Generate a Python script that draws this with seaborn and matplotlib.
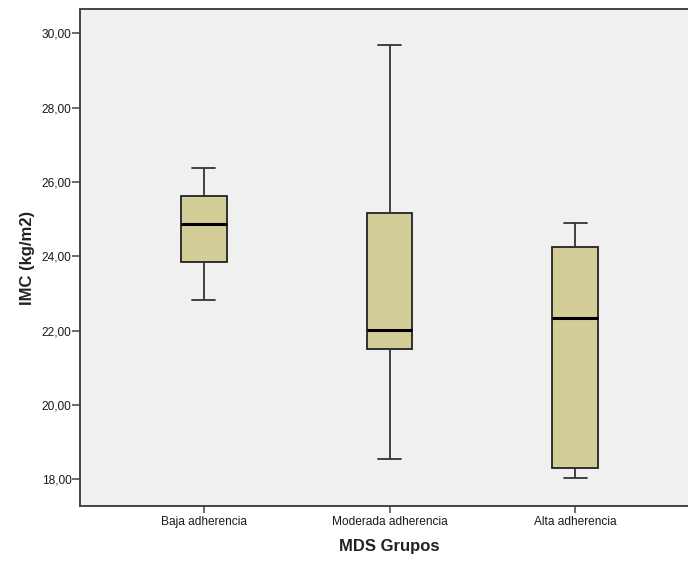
import matplotlib
matplotlib.use("Agg")
import matplotlib.pyplot as plt
import seaborn as sns
import pandas as pd
from matplotlib.ticker import FuncFormatter

# Five-number summaries per group (min, Q1, median, Q3, max)
categories = ["Baja adherencia", "Moderada adherencia", "Alta adherencia"]
baja = [22.81, 23.85, 24.86, 25.62, 26.36]
moderada = [18.55, 21.51, 22.01, 25.15, 29.67]
alta = [18.03, 18.29, 22.34, 24.25, 24.88]
y_ticks = [18, 20, 22, 24, 26, 28, 30]

df = pd.DataFrame({
    "grupo": [categories[0]] * len(baja) + [categories[1]] * len(moderada) + [categories[2]] * len(alta),
    "imc": baja + moderada + alta,
})

sns.set_theme(style="white")
plt.rcParams["font.family"] = ["Liberation Sans", "DejaVu Sans"]

fig = plt.figure(figsize=(6.88, 5.62), dpi=100)
ax = fig.add_axes([80 / 688, 1 - 506 / 562, 619 / 688, 497 / 562])
ax.set_facecolor("#f0f0f0")

sns.boxplot(
    data=df, x="grupo", y="imc", order=categories, ax=ax,
    whis=(0, 100), width=0.245, color="#d3ce97", saturation=1,
    linecolor="#333333", linewidth=1.3,
    medianprops=dict(color="black", linewidth=2.2),
    boxprops=dict(edgecolor="#222222"),
)

ax.set_xlim(-0.667, 2.667)
ax.set_ylim(17.28, 30.65)
ax.set_yticks(y_ticks)
ax.yaxis.set_major_formatter(FuncFormatter(lambda v, p: f"{v:.2f}".replace(".", ",")))

for side, sp in ax.spines.items():
    sp.set_color("#444444")
    sp.set_linewidth(1.4)
    sp.set_visible(True)

ax.tick_params(axis="y", direction="out", length=5.5, width=1.1, color="#444444",
               labelsize=8.6, labelcolor="#1a1a1a", pad=0.5, left=True)
ax.tick_params(axis="x", direction="out", length=5, width=1.1, color="#444444",
               labelsize=8.6, labelcolor="#1a1a1a", pad=2, bottom=True)

ax.set_xlabel("MDS Grupos", fontsize=12, fontweight="bold", color="#222222")
ax.set_ylabel("IMC (kg/m2)", fontsize=12, fontweight="bold", color="#222222")
ax.xaxis.set_label_coords(0.5, -0.066)
ax.yaxis.set_label_coords(-0.073, 0.5)
ax.grid(False)

fig.savefig("out.png", dpi=100, facecolor="white")
